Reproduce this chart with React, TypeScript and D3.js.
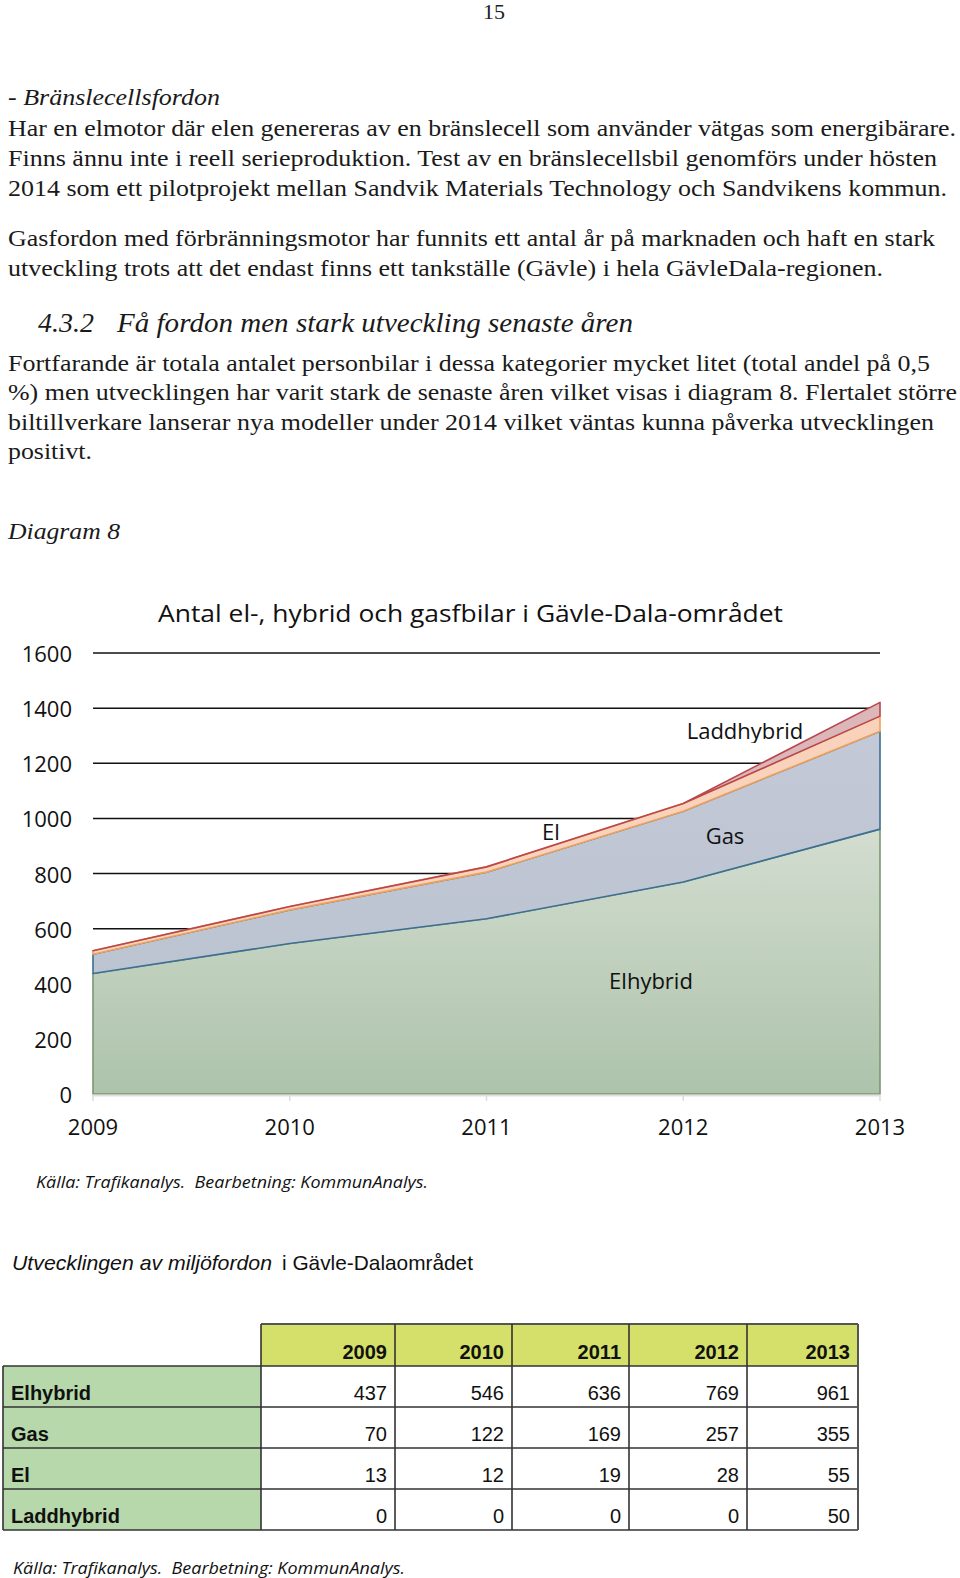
import React, { useEffect } from "react";
import * as d3 from "d3";

const years = ["2009", "2010", "2011", "2012", "2013"];
const elhybrid = [437, 546, 636, 769, 961];
const gas = [70, 122, 169, 257, 355];
const el = [13, 12, 19, 28, 55];
const laddhybrid = [0, 0, 0, 0, 50];
const seriesNames = ["Elhybrid", "Gas", "El", "Laddhybrid"];
const yTicks = [0, 200, 400, 600, 800, 1000, 1200, 1400, 1600];

const seriesStroke = ["#7a9870", "#3d6f93", "#efa25c", "#b9474d"];
const seriesFill = ["url(#gElhybrid)", "url(#gGas)", "#f9d2bb", "#dcb7ba"];

const chartTitle = "Antal el-, hybrid och gasfbilar i Gävle-Dala-området";
const sourceText = "Källa: Trafikanalys.\u00a0 Bearbetning: KommunAnalys.";

type Line = { t: string; x: number; y: number; w: number; italic?: boolean; size: number; family: string };

const serif = "'Liberation Serif', 'Times New Roman', serif";
const textLines: Line[] = [
  { t: "- Bränslecellsfordon", x: 8, y: 105, w: 212, italic: true, size: 24, family: serif },
  { t: "Har en elmotor där elen genereras av en bränslecell som använder vätgas som energibärare.", x: 8, y: 136, w: 948, size: 24, family: serif },
  { t: "Finns ännu inte i reell serieproduktion. Test av en bränslecellsbil genomförs under hösten", x: 8, y: 166, w: 929, size: 24, family: serif },
  { t: "2014 som ett pilotprojekt mellan Sandvik Materials Technology och Sandvikens kommun.", x: 8, y: 196, w: 939, size: 24, family: serif },
  { t: "Gasfordon med förbränningsmotor har funnits ett antal år på marknaden och haft en stark", x: 8, y: 246, w: 927, size: 24, family: serif },
  { t: "utveckling trots att det endast finns ett tankställe (Gävle) i hela GävleDala-regionen.", x: 8, y: 276, w: 875, size: 24, family: serif },
  { t: "Fortfarande är totala antalet personbilar i dessa kategorier mycket litet (total andel på 0,5", x: 8, y: 371, w: 922, size: 24, family: serif },
  { t: "%) men utvecklingen har varit stark de senaste åren vilket visas i diagram 8. Flertalet större", x: 8, y: 400, w: 949, size: 24, family: serif },
  { t: "biltillverkare lanserar nya modeller under 2014 vilket väntas kunna påverka utvecklingen", x: 8, y: 430, w: 926, size: 24, family: serif },
  { t: "positivt.", x: 8, y: 459, w: 84, size: 24, family: serif },
  { t: "Diagram 8", x: 8, y: 539, w: 112, italic: true, size: 24, family: serif },
];

const tableRows = [elhybrid, gas, el, laddhybrid];

export default function App() {
  useEffect(() => {
    document.body.style.margin = "0";
  }, []);

  const W = 960;
  const H = 1578;
  const x = d3.scalePoint<string>().domain(years).range([93, 880]);
  const y = d3.scaleLinear().domain([0, 1600]).range([1094, 653]);

  const rows = years.map((yr, i) => ({
    year: yr,
    Elhybrid: elhybrid[i],
    Gas: gas[i],
    El: el[i],
    Laddhybrid: laddhybrid[i],
  }));
  const stacked = d3.stack<any>().keys(seriesNames)(rows);
  const area = d3
    .area<any>()
    .x((d) => x(d.data.year) as number)
    .y0((d) => y(d[0]))
    .y1((d) => y(d[1]));

  const sans = "'Open Sans', 'DejaVu Sans', sans-serif";
  const arial = "'Liberation Sans', Arial, sans-serif";

  const colEdges = [3, 261, 395, 512, 629, 747, 858];
  const rowEdges = [1324, 1366, 1407, 1448, 1489, 1530];

  return (
    <svg width={W} height={H} style={{ display: "block", background: "#fff" }} xmlns="http://www.w3.org/2000/svg">
      <defs>
        <linearGradient id="gElhybrid" x1="0" y1="0" x2="0" y2="1">
          <stop offset="0%" stopColor="#d3ddd0" />
          <stop offset="100%" stopColor="#adc3ab" />
        </linearGradient>
        <linearGradient id="gGas" x1="0" y1="0" x2="0" y2="1">
          <stop offset="0%" stopColor="#c3c9d6" />
          <stop offset="100%" stopColor="#bcc3d1" />
        </linearGradient>
        <clipPath id="clipLadd">
          <rect x={600} y={700} width={300} height={43} />
        </clipPath>
      </defs>

      <text x={494} y={19} textAnchor="middle" fontFamily={serif} fontSize={22} fill="#222">15</text>

      {textLines.map((l, i) => (
        <text key={i} x={l.x} y={l.y} fontFamily={l.family} fontSize={l.size} fontStyle={l.italic ? "italic" : "normal"} fill="#1a1a1a" textLength={l.w} lengthAdjust="spacingAndGlyphs">
          {l.t}
        </text>
      ))}

      <text x={38} y={332} fontFamily={serif} fontSize={27} fontStyle="italic" fill="#1a1a1a">
        <tspan textLength={56} lengthAdjust="spacingAndGlyphs">4.3.2</tspan>
        <tspan x={117} textLength={516} lengthAdjust="spacingAndGlyphs">Få fordon men stark utveckling senaste åren</tspan>
      </text>

      <text x={158} y={622} fontFamily={sans} fontSize={24} fill="#111" textLength={625} lengthAdjust="spacingAndGlyphs">{chartTitle}</text>

      {yTicks.filter((t) => t > 0).map((t) => (
        <line key={t} x1={93} x2={880} y1={y(t)} y2={y(t)} stroke="#111" strokeWidth={1.5} />
      ))}

      {yTicks.map((t) => (
        <text key={t} x={72} y={y(t) + 9} textAnchor="end" fontFamily={sans} fontSize={22} fill="#111">{t}</text>
      ))}

      {stacked.map((s, i) => (
        <path key={s.key} d={area(s) || ""} fill={seriesFill[i]} stroke={seriesStroke[i]} strokeWidth={1.6} strokeLinejoin="round" />
      ))}

      <line x1={93} x2={880} y1={1095.5} y2={1095.5} stroke="#e0e0e0" strokeWidth={2} />
      {years.map((yr) => (
        <g key={yr}>
          <line x1={x(yr)} x2={x(yr)} y1={1095} y2={1101} stroke="#dcdcdc" strokeWidth={1.5} />
          <text x={x(yr)} y={1135} textAnchor="middle" fontFamily={sans} fontSize={22} fill="#111">{yr}</text>
        </g>
      ))}

      <text x={745} y={739} textAnchor="middle" fontFamily={sans} fontSize={22} fill="#111" clipPath="url(#clipLadd)">Laddhybrid</text>
      <text x={551} y={840} textAnchor="middle" fontFamily={sans} fontSize={22} fill="#111">El</text>
      <text x={725} y={844} textAnchor="middle" fontFamily={sans} fontSize={22} fill="#111">Gas</text>
      <text x={651} y={989} textAnchor="middle" fontFamily={sans} fontSize={22} fill="#111">Elhybrid</text>

      <text x={36} y={1188} fontFamily={sans} fontSize={17} fontStyle="italic" fill="#111" textLength={392} lengthAdjust="spacingAndGlyphs">{sourceText}</text>

      <text x={12} y={1270} fontFamily={arial} fontSize={21} fill="#111">
        <tspan fontStyle="italic" textLength={260} lengthAdjust="spacingAndGlyphs">Utvecklingen av miljöfordon</tspan>
        <tspan x={282} textLength={191} lengthAdjust="spacingAndGlyphs">i Gävle-Dalaområdet</tspan>
      </text>

      <rect x={colEdges[1]} y={rowEdges[0]} width={colEdges[6] - colEdges[1]} height={rowEdges[1] - rowEdges[0]} fill="#d4e06a" />
      <rect x={colEdges[0]} y={rowEdges[1]} width={colEdges[1] - colEdges[0]} height={rowEdges[5] - rowEdges[1]} fill="#b6d8aa" />
      <line x1={colEdges[1]} x2={colEdges[6]} y1={rowEdges[0]} y2={rowEdges[0]} stroke="#555" strokeWidth={2} />
      {rowEdges.slice(1).map((ry) => (
        <line key={ry} x1={colEdges[0]} x2={colEdges[6]} y1={ry} y2={ry} stroke="#333" strokeWidth={1.6} />
      ))}
      <line x1={colEdges[0]} x2={colEdges[0]} y1={rowEdges[1]} y2={rowEdges[5]} stroke="#333" strokeWidth={1.6} />
      {colEdges.slice(1).map((cx, i) => (
        <line key={cx} x1={cx} x2={cx} y1={rowEdges[0]} y2={rowEdges[5]} stroke={i === 5 ? "#555" : "#333"} strokeWidth={i === 5 ? 2 : 1.6} />
      ))}
      {years.map((yr, j) => (
        <text key={yr} x={colEdges[j + 2] - 8} y={rowEdges[1] - 7} textAnchor="end" fontFamily={arial} fontSize={20} fontWeight="bold" fill="#111">{yr}</text>
      ))}
      {seriesNames.map((n, i) => (
        <g key={n}>
          <text x={11} y={rowEdges[i + 2] - 7} fontFamily={arial} fontSize={20} fontWeight="bold" fill="#111">{n}</text>
          {tableRows[i].map((v, j) => (
            <text key={j} x={colEdges[j + 2] - 8} y={rowEdges[i + 2] - 7} textAnchor="end" fontFamily={arial} fontSize={20} fill="#111">{v}</text>
          ))}
        </g>
      ))}

      <text x={13} y={1574} fontFamily={sans} fontSize={17} fontStyle="italic" fill="#111" textLength={392} lengthAdjust="spacingAndGlyphs">{sourceText}</text>
    </svg>
  );
}
